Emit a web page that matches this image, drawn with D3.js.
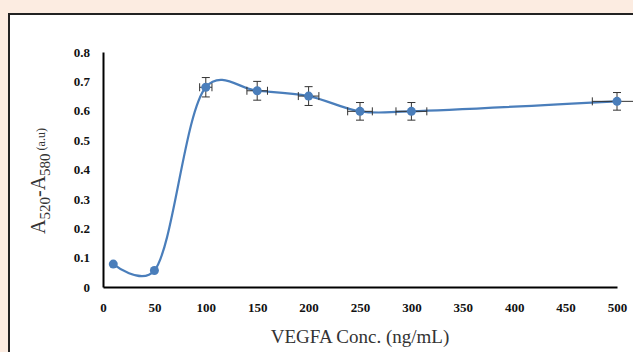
<!DOCTYPE html>
<html>
<head>
<meta charset="utf-8">
<script src="https://cdn.jsdelivr.net/npm/d3@7"></script>
<style>
  body { margin: 0; background: #fcece1; }
  svg { display: block; }
</style>
</head>
<body>
<div id="Area"></div>
<script>
// concentration (ng/mL) and absorbance difference
var conc = [10, 50, 100, 150, 200, 250, 300, 500];
var absDiff = [0.078, 0.056, 0.68, 0.668, 0.65, 0.598, 0.598, 0.632];
var yErr = [0, 0, 0.033, 0.032, 0.032, 0.03, 0.03, 0.03];
var xErr = [0, 0, 6, 10, 10, 12, 15, 24];
var xTicks = [0, 50, 100, 150, 200, 250, 300, 350, 400, 450, 500];
var yTicks = [0, 0.1, 0.2, 0.3, 0.4, 0.5, 0.6, 0.7, 0.8];

var W = 633, H = 352;
var margin = { top: 52, right: 16, bottom: 65, left: 103 },
  width = W - margin.left - margin.right,
  height = H - margin.top - margin.bottom;

var data = conc.map(function (c, i) {
  return { x: c, y: absDiff[i], ex: xErr[i], ey: yErr[i] };
});

var svg = d3.select("#Area").append("svg")
  .attr("width", W)
  .attr("height", H);

// white panel with dark frame (left + top edges visible)
svg.append("rect")
  .attr("x", 9).attr("y", 14)
  .attr("width", W + 20).attr("height", H + 20)
  .attr("fill", "#fff")
  .attr("stroke", "#222")
  .attr("stroke-width", 2);

var g = svg.append("g")
  .attr("transform", "translate(" + margin.left + "," + margin.top + ")");

var x = d3.scaleLinear().domain([0, 500]).range([0, width]);
var y = d3.scaleLinear().domain([0, 0.8]).range([height, 0]);

// axes (no tick marks, bold serif labels)
var xAxis = g.append("g")
  .attr("transform", "translate(0," + height + ")")
  .call(d3.axisBottom(x).tickValues(xTicks).tickSize(0).tickPadding(16).tickFormat(d3.format("d")));
var yAxis = g.append("g")
  .call(d3.axisLeft(y).tickValues(yTicks).tickSize(0).tickPadding(13)
    .tickFormat(function (d) { return d === 0 ? "0" : d3.format(".1f")(d); }));

[xAxis, yAxis].forEach(function (ax) {
  ax.select(".domain").attr("stroke", "#000").attr("stroke-width", 2);
  ax.selectAll("text")
    .style("font-family", "'Liberation Serif', 'Times New Roman', serif")
    .attr("font-weight", "bold")
    .attr("font-size", 13)
    .attr("fill", "#111");
});

// smoothed line (excel-like)
var line = d3.line()
  .x(function (d) { return x(d.x); })
  .y(function (d) { return y(d.y); })
  .curve(d3.curveCatmullRom.alpha(0.25));

g.append("path")
  .datum(data)
  .attr("d", line)
  .attr("fill", "none")
  .attr("stroke", "#4a7ebb")
  .attr("stroke-width", 2.2);

// error bars
var eb = g.selectAll(".err")
  .data(data.filter(function (d) { return d.ey > 0; }))
  .enter().append("g")
  .attr("class", "err")
  .attr("stroke", "#333")
  .attr("stroke-width", 1);

eb.append("line")
  .attr("x1", function (d) { return x(d.x); })
  .attr("x2", function (d) { return x(d.x); })
  .attr("y1", function (d) { return y(d.y - d.ey); })
  .attr("y2", function (d) { return y(d.y + d.ey); });
eb.append("line")
  .attr("x1", function (d) { return x(d.x) - 4; })
  .attr("x2", function (d) { return x(d.x) + 4; })
  .attr("y1", function (d) { return y(d.y + d.ey); })
  .attr("y2", function (d) { return y(d.y + d.ey); });
eb.append("line")
  .attr("x1", function (d) { return x(d.x) - 4; })
  .attr("x2", function (d) { return x(d.x) + 4; })
  .attr("y1", function (d) { return y(d.y - d.ey); })
  .attr("y2", function (d) { return y(d.y - d.ey); });
eb.append("line")
  .attr("x1", function (d) { return x(d.x - d.ex); })
  .attr("x2", function (d) { return x(d.x + d.ex); })
  .attr("y1", function (d) { return y(d.y); })
  .attr("y2", function (d) { return y(d.y); });
eb.append("line")
  .attr("x1", function (d) { return x(d.x - d.ex); })
  .attr("x2", function (d) { return x(d.x - d.ex); })
  .attr("y1", function (d) { return y(d.y) - 4; })
  .attr("y2", function (d) { return y(d.y) + 4; });
eb.append("line")
  .attr("x1", function (d) { return x(d.x + d.ex); })
  .attr("x2", function (d) { return x(d.x + d.ex); })
  .attr("y1", function (d) { return y(d.y) - 4; })
  .attr("y2", function (d) { return y(d.y) + 4; });

// markers
g.selectAll(".pt")
  .data(data)
  .enter().append("circle")
  .attr("class", "pt")
  .attr("cx", function (d) { return x(d.x); })
  .attr("cy", function (d) { return y(d.y); })
  .attr("r", 4.5)
  .attr("fill", "#4a7ebb");

// axis titles
svg.append("text")
  .attr("x", 360).attr("y", 343)
  .attr("text-anchor", "middle")
  .attr("font-family", "Liberation Serif, Times New Roman, serif")
  .attr("font-size", 19)
  .attr("fill", "#333")
  .text("VEGFA Conc. (ng/mL)");

var yt = svg.append("text")
  .attr("transform", "translate(45,181) rotate(-90)")
  .attr("text-anchor", "middle")
  .attr("font-family", "Liberation Serif, Times New Roman, serif")
  .attr("font-size", 20)
  .attr("fill", "#333");
yt.append("tspan").text("A");
yt.append("tspan").attr("font-size", 15).attr("dy", 5).text("520");
yt.append("tspan").attr("dy", -5).text("-A");
yt.append("tspan").attr("font-size", 15).attr("dy", 5).text("580");
yt.append("tspan").attr("font-size", 12).attr("dy", -5).text(" (a.u)");
</script>
</body>
</html>
